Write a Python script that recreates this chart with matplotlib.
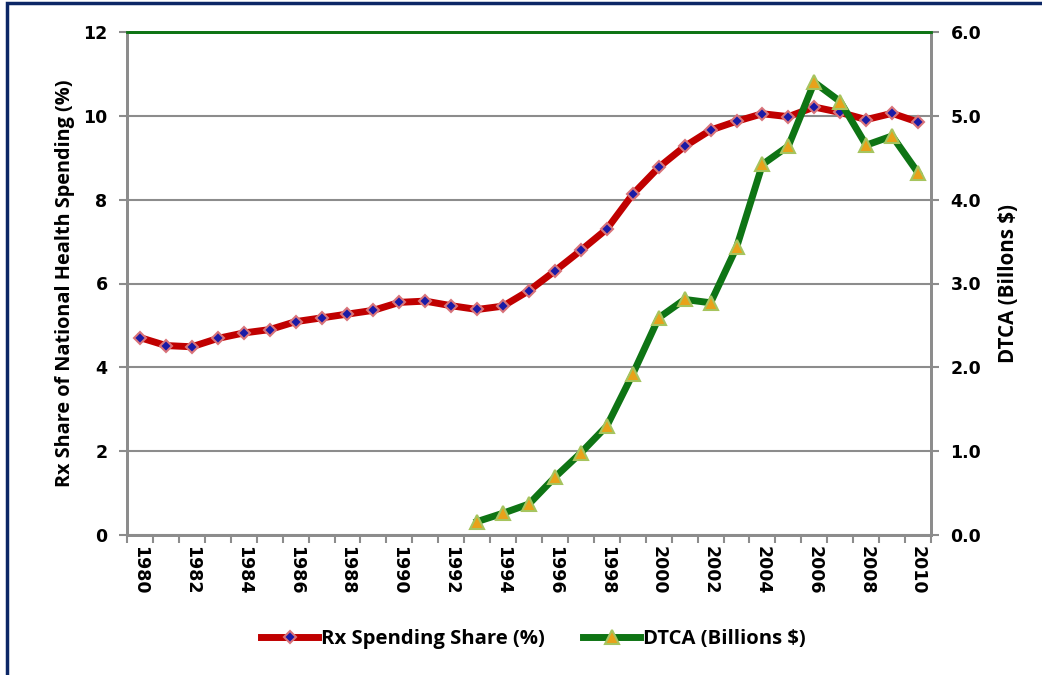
import numpy as np
import matplotlib; matplotlib.use("Agg")
import matplotlib.pyplot as plt
from matplotlib.patches import Rectangle
from matplotlib.lines import Line2D

years = list(range(1980, 2011))
rx_share = [4.71, 4.52, 4.49, 4.69, 4.82, 4.90, 5.09, 5.18, 5.27, 5.36,
            5.55, 5.58, 5.47, 5.38, 5.46, 5.83, 6.30, 6.79, 7.30, 8.13,
            8.77, 9.27, 9.66, 9.87, 10.05, 9.98, 10.21, 10.08, 9.91, 10.06, 9.85]
dtca_years = list(range(1993, 2011))
dtca = [0.16, 0.26, 0.37, 0.69, 0.98, 1.30, 1.92, 2.59, 2.81, 2.77,
        3.43, 4.42, 4.64, 5.40, 5.17, 4.65, 4.76, 4.32]

RED = "#c00000"; GREEN = "#0e7414"; GRID = "#8c8c8c"
LBL = dict(family="Open Sans", fontweight="bold")

fig = plt.figure(figsize=(10.42, 6.75), dpi=100)
fig.patches.append(Rectangle((0.007, -0.1), 1.2, 1.096, transform=fig.transFigure,
                             fill=False, ec="#0c2766", lw=2.5))
ax = fig.add_axes([0.1219, 0.2074, 0.7716, 0.7452])
ax2 = ax.twinx()

x = np.arange(len(years))
xd = np.array([years.index(y) for y in dtca_years])

ax.plot(x, rx_share, color=RED, lw=5, marker="D", ms=6.5, mfc="#1a1aa6",
        mec="#d9737a", mew=1.5, zorder=3)
ax2.plot(xd, dtca, color=GREEN, lw=5, marker="^", ms=10, mfc="#e8a21a",
         mec="#a6c45e", mew=1.5, zorder=3)

ax.set_xlim(-0.5, len(years) - 0.5)
ax.set_ylim(0, 12); ax2.set_ylim(0, 6)
ax.set_yticks(np.arange(0, 13, 2))
ax2.set_yticks(np.arange(0, 6.1, 1))
ax2.set_yticklabels([f"{v:.1f}" for v in np.arange(0, 6.1, 1)])
ax.grid(axis="y", color=GRID, lw=1.5)
ax.set_axisbelow(True)

ax.set_xticks(x[::2])
ax.set_xticklabels([str(y) for y in years[::2]], rotation=270)
ax.set_xticks(np.arange(-0.5, len(years)), minor=True)
ax.tick_params(axis="x", which="major", length=0, pad=8)
ax.tick_params(axis="x", which="minor", length=6, color=GRID, width=1.5)
ax.tick_params(axis="y", length=6, color=GRID, width=1.5, pad=8)
ax2.tick_params(axis="y", length=6, color=GRID, width=1.5, pad=8)
for a in (ax, ax2):
    for t in a.get_xticklabels() + a.get_yticklabels():
        t.set_fontweight("bold"); t.set_fontsize(12.5); t.set_family("DejaVu Sans")

for a in (ax, ax2):
    a.spines["top"].set_color(GREEN); a.spines["top"].set_linewidth(2)
    for s in ("left", "right", "bottom"):
        a.spines[s].set_color(GRID); a.spines[s].set_linewidth(2)

ax.set_ylabel("Rx Share of National Health Spending (%)", fontsize=14.3, labelpad=6, **LBL)
ax2.set_ylabel("DTCA (Billons $)", fontsize=14.8, labelpad=12, **LBL)

handles = [Line2D([], [], color=RED, lw=5, marker="D", ms=6.5, mfc="#1a1aa6", mec="#d9737a", mew=1.5),
           Line2D([], [], color=GREEN, lw=5, marker="^", ms=10, mfc="#e8a21a", mec="#a6c45e", mew=1.5)]
fig.legend(handles, ["Rx Spending Share (%)", "DTCA (Billions $)"], loc="center",
           bbox_to_anchor=(0.512, 0.053), ncol=2, frameon=False, handlelength=2.8,
           handletextpad=0.15, columnspacing=1.9, prop=dict(family="Open Sans", weight="bold", size=14.6))

fig.savefig("out.png", dpi=100)
